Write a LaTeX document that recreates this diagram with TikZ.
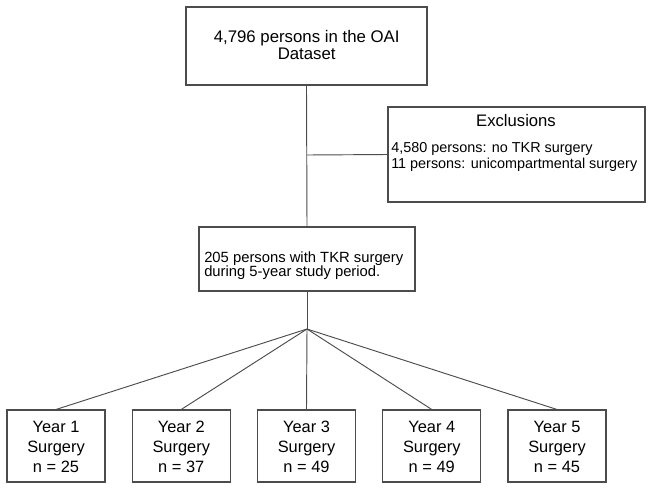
\documentclass[tikz,border=0pt]{standalone}
\usepackage{fontspec}
\setmainfont{Liberation Sans}
\begin{document}
\begin{tikzpicture}[x=0.75pt,y=-0.75pt,
  box/.style={draw=black!70,line width=0.8pt,rectangle,inner sep=0pt,fill=white},
  conn/.style={draw=black!70,line width=0.7pt},
  txt/.style={inner sep=0pt,anchor=base},
  txtl/.style={inner sep=0pt,anchor=base west},
  bigf/.style={font=\fontsize{12.6}{14}\selectfont},
  yearf/.style={font=\fontsize{12.3}{14}\selectfont},
  smallf/.style={font=\fontsize{10.8}{12}\selectfont},
  midf/.style={font=\fontsize{11.1}{12}\selectfont}]
\useasboundingbox[fill=white] (0,0) rectangle (651,490);

% boxes
\node[box,minimum width=241*0.75pt,minimum height=78*0.75pt] (top) at (306.5,46) {};
\node[box,minimum width=257*0.75pt,minimum height=95*0.75pt] (excl) at (516.5,154.5) {};
\node[box,minimum width=216*0.75pt,minimum height=64*0.75pt] (mid) at (307,259) {};
\foreach \i/\cx in {1/56,2/181.25,3/306.5,4/431.75,5/557}{
  \node[box,minimum width=98*0.75pt,minimum height=72*0.75pt] (y\i) at (\cx,446) {};
}

% connectors
\coordinate (br) at (307,155);
\coordinate (fan) at (307,329);
\draw[conn] (top.south) -- (mid.north);
\draw[conn] (br) -- (excl.west);
\draw[conn] (mid.south) -- (fan);
\foreach \i in {1,...,5}{
  \draw[conn] (fan) -- (y\i.north);
}

% texts
\node[txt,bigf] (t1) at (306.7,42) {4,796 persons in the OAI};
\node[txt,bigf] (t2) at (306.7,59) {Dataset};
\node[txt,font=\fontsize{12.5}{14}\selectfont] (e0) at (516,126.7) {Exclusions};
\node[txtl,smallf] (e1) at (391,152.7) {4,580 persons: no TKR surgery};
\node[txtl,smallf] (e2) at (391,168) {11 persons: unicompartmental surgery};
\node[txtl,midf] (m1) at (204,262) {205 persons with TKR surgery};
\node[txtl,midf] (m2) at (204,276.5) {during 5-year study period.};
\foreach \i/\cx/\n in {1/56/25,2/181.25/37,3/306.5/49,4/431.75/49,5/557/45}{
  \node[txt,yearf] (ya\i) at (\cx,432) {Year \i};
  \node[txt,yearf] (yb\i) at (\cx,452) {Surgery};
  \node[txt,yearf] (yc\i) at (\cx,472) {n = \n};
}
\end{tikzpicture}
\end{document}
